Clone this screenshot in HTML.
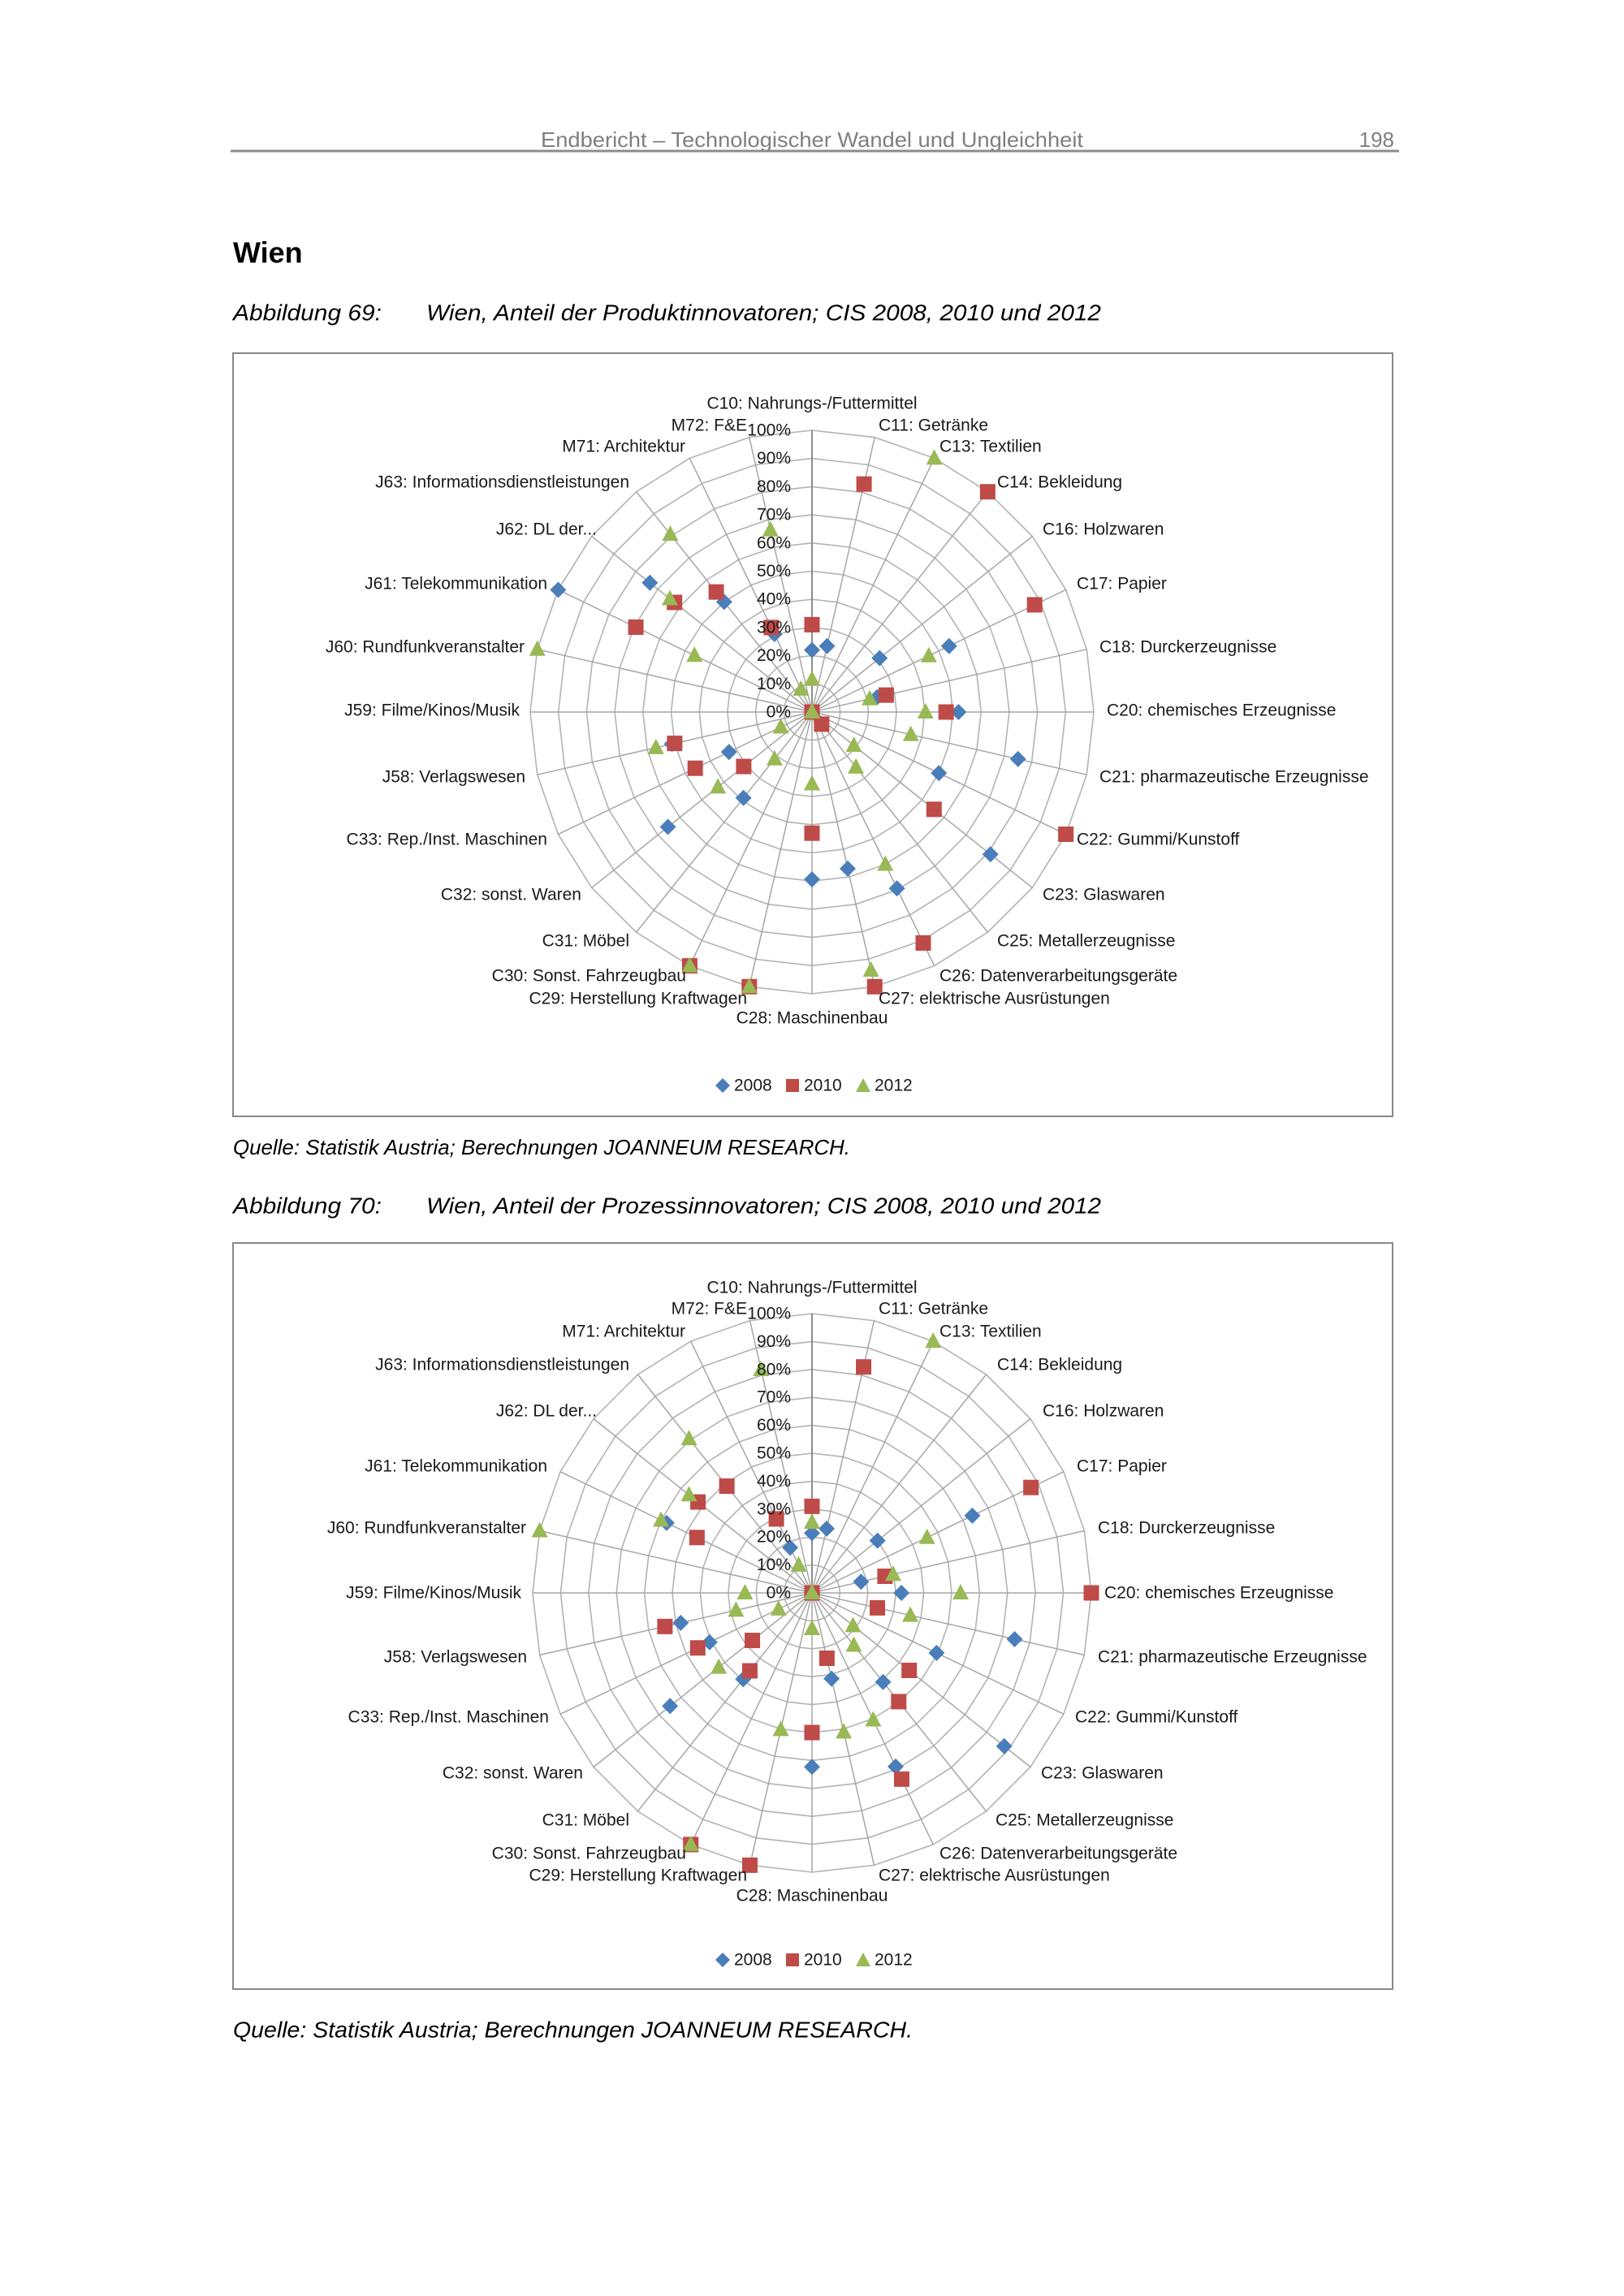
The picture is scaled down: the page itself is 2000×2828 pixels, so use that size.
<!DOCTYPE html>
<html><head><meta charset="utf-8">
<style>
html,body{margin:0;padding:0;background:#fff;}
svg{display:block;}
text{font-family:"Liberation Sans",sans-serif;}
.lb{font-size:21px;fill:#1a1a1a;dominant-baseline:central;}
.pc{font-size:21px;fill:#1a1a1a;dominant-baseline:central;text-anchor:end;}
</style></head><body>
<svg id="s" xmlns="http://www.w3.org/2000/svg" width="2000" height="2828" viewBox="0 0 2000 2828">
<rect width="2000" height="2828" fill="#fff"/>
<!-- header -->
<text x="1000" y="172" font-size="26" fill="#7f7f7f" text-anchor="middle" dominant-baseline="central" textLength="668" lengthAdjust="spacingAndGlyphs">Endbericht – Technologischer Wandel und Ungleichheit</text>
<text x="1717" y="172" font-size="26" fill="#7f7f7f" text-anchor="end" dominant-baseline="central">198</text>
<line x1="284" y1="186" x2="1723" y2="186" stroke="#8c8c8c" stroke-width="3"/>
<text x="287" y="311" font-size="36" font-weight="bold" fill="#000" dominant-baseline="central">Wien</text>
<text x="287" y="385" font-size="28" font-style="italic" fill="#000" dominant-baseline="central" textLength="183" lengthAdjust="spacingAndGlyphs">Abbildung 69:</text>
<text x="525" y="385" font-size="28" font-style="italic" fill="#000" dominant-baseline="central" textLength="831" lengthAdjust="spacingAndGlyphs">Wien, Anteil der Produktinnovatoren; CIS 2008, 2010 und 2012</text>
<rect x="287" y="435" width="1428" height="940" fill="none" stroke="#888" stroke-width="2"/>
<text x="287" y="1413" font-size="26" font-style="italic" fill="#000" dominant-baseline="central" textLength="760" lengthAdjust="spacingAndGlyphs">Quelle: Statistik Austria; Berechnungen JOANNEUM RESEARCH.</text>

<text x="287" y="1485" font-size="28" font-style="italic" fill="#000" dominant-baseline="central" textLength="183" lengthAdjust="spacingAndGlyphs">Abbildung 70:</text>
<text x="525" y="1485" font-size="28" font-style="italic" fill="#000" dominant-baseline="central" textLength="831" lengthAdjust="spacingAndGlyphs">Wien, Anteil der Prozessinnovatoren; CIS 2008, 2010 und 2012</text>
<rect x="287" y="1531" width="1428" height="919" fill="none" stroke="#888" stroke-width="2"/>
<text x="287" y="2500" font-size="28" font-style="italic" fill="#000" dominant-baseline="central" textLength="837" lengthAdjust="spacingAndGlyphs">Quelle: Statistik Austria; Berechnungen JOANNEUM RESEARCH.</text>

<g id="c1" transform="translate(1000,877)">
<g id="g1"></g>
<text class="pc" x="-26" y="0">0%</text><text class="pc" x="-26" y="-34.7">10%</text><text class="pc" x="-26" y="-69.4">20%</text><text class="pc" x="-26" y="-104.1">30%</text><text class="pc" x="-26" y="-138.8">40%</text><text class="pc" x="-26" y="-173.5">50%</text><text class="pc" x="-26" y="-208.2">60%</text><text class="pc" x="-26" y="-242.9">70%</text><text class="pc" x="-26" y="-277.6">80%</text><text class="pc" x="-26" y="-312.3">90%</text><text class="pc" x="-26" y="-347">100%</text>
<text class="lb" x="0" y="-380" text-anchor="middle">C10: Nahrungs-/Futtermittel</text>
<text class="lb" x="-80" y="-353" text-anchor="end">M72: F&amp;E</text>
<text class="lb" x="82" y="-353">C11: Getränke</text>
<text class="lb" x="-156" y="-327" text-anchor="end">M71: Architektur</text>
<text class="lb" x="157" y="-327">C13: Textilien</text>
<text class="lb" x="-225" y="-283" text-anchor="end">J63: Informationsdienstleistungen</text>
<text class="lb" x="228" y="-283">C14: Bekleidung</text>
<text class="lb" x="-265" y="-225" text-anchor="end">J62: DL der...</text>
<text class="lb" x="284" y="-225">C16: Holzwaren</text>
<text class="lb" x="-326" y="-158" text-anchor="end">J61: Telekommunikation</text>
<text class="lb" x="326" y="-158">C17: Papier</text>
<text class="lb" x="-354" y="-80" text-anchor="end">J60: Rundfunkveranstalter</text>
<text class="lb" x="354" y="-80">C18: Durckerzeugnisse</text>
<text class="lb" x="-360" y="-2" text-anchor="end">J59: Filme/Kinos/Musik</text>
<text class="lb" x="363" y="-2">C20: chemisches Erzeugnisse</text>
<text class="lb" x="-353" y="80" text-anchor="end">J58: Verlagswesen</text>
<text class="lb" x="354" y="80">C21: pharmazeutische Erzeugnisse</text>
<text class="lb" x="-326" y="157" text-anchor="end">C33: Rep./Inst. Maschinen</text>
<text class="lb" x="326" y="157">C22: Gummi/Kunstoff</text>
<text class="lb" x="-284" y="225" text-anchor="end">C32: sonst. Waren</text>
<text class="lb" x="284" y="225">C23: Glaswaren</text>
<text class="lb" x="-225" y="282" text-anchor="end">C31: Möbel</text>
<text class="lb" x="228" y="282">C25: Metallerzeugnisse</text>
<text class="lb" x="-155" y="325" text-anchor="end">C30: Sonst. Fahrzeugbau</text>
<text class="lb" x="157" y="325">C26: Datenverarbeitungsgeräte</text>
<text class="lb" x="-80" y="353" text-anchor="end">C29: Herstellung Kraftwagen</text>
<text class="lb" x="82" y="353">C27: elektrische Ausrüstungen</text>
<text class="lb" x="0" y="377" text-anchor="middle">C28: Maschinenbau</text>
<g transform="translate(0,460)">
<path d="M-110,-9 L-101,0 L-110,9 L-119,0 Z" fill="#4a7ebb"/>
<text class="lb" x="-96" y="0" font-size="23">2008</text>
<rect x="-32" y="-8" width="16" height="16" fill="#be4b48"/>
<text class="lb" x="-10" y="0" font-size="23">2010</text>
<path d="M63,-9 L72,8 L54,8 Z" fill="#98b954"/>
<text class="lb" x="77" y="0" font-size="23">2012</text>
</g>
</g>

<g id="c2" transform="translate(1000,1962)">
<g id="g2"></g>
<text class="pc" x="-26" y="0">0%</text><text class="pc" x="-26" y="-34.4">10%</text><text class="pc" x="-26" y="-68.8">20%</text><text class="pc" x="-26" y="-103.2">30%</text><text class="pc" x="-26" y="-137.6">40%</text><text class="pc" x="-26" y="-172">50%</text><text class="pc" x="-26" y="-206.4">60%</text><text class="pc" x="-26" y="-240.8">70%</text><text class="pc" x="-26" y="-275.2">80%</text><text class="pc" x="-26" y="-309.6">90%</text><text class="pc" x="-26" y="-344">100%</text>
<text class="lb" x="0" y="-376" text-anchor="middle">C10: Nahrungs-/Futtermittel</text>
<text class="lb" x="-80" y="-350" text-anchor="end">M72: F&amp;E</text>
<text class="lb" x="82" y="-350">C11: Getränke</text>
<text class="lb" x="-156" y="-322" text-anchor="end">M71: Architektur</text>
<text class="lb" x="157" y="-322">C13: Textilien</text>
<text class="lb" x="-225" y="-281" text-anchor="end">J63: Informationsdienstleistungen</text>
<text class="lb" x="228" y="-281">C14: Bekleidung</text>
<text class="lb" x="-265" y="-224" text-anchor="end">J62: DL der...</text>
<text class="lb" x="284" y="-224">C16: Holzwaren</text>
<text class="lb" x="-326" y="-156" text-anchor="end">J61: Telekommunikation</text>
<text class="lb" x="326" y="-156">C17: Papier</text>
<text class="lb" x="-352" y="-80" text-anchor="end">J60: Rundfunkveranstalter</text>
<text class="lb" x="352" y="-80">C18: Durckerzeugnisse</text>
<text class="lb" x="-358" y="0" text-anchor="end">J59: Filme/Kinos/Musik</text>
<text class="lb" x="360" y="0">C20: chemisches Erzeugnisse</text>
<text class="lb" x="-351" y="79" text-anchor="end">J58: Verlagswesen</text>
<text class="lb" x="352" y="79">C21: pharmazeutische Erzeugnisse</text>
<text class="lb" x="-324" y="153" text-anchor="end">C33: Rep./Inst. Maschinen</text>
<text class="lb" x="324" y="153">C22: Gummi/Kunstoff</text>
<text class="lb" x="-282" y="222" text-anchor="end">C32: sonst. Waren</text>
<text class="lb" x="282" y="222">C23: Glaswaren</text>
<text class="lb" x="-225" y="280" text-anchor="end">C31: Möbel</text>
<text class="lb" x="226" y="280">C25: Metallerzeugnisse</text>
<text class="lb" x="-155" y="321" text-anchor="end">C30: Sonst. Fahrzeugbau</text>
<text class="lb" x="157" y="321">C26: Datenverarbeitungsgeräte</text>
<text class="lb" x="-80" y="348" text-anchor="end">C29: Herstellung Kraftwagen</text>
<text class="lb" x="82" y="348">C27: elektrische Ausrüstungen</text>
<text class="lb" x="0" y="373" text-anchor="middle">C28: Maschinenbau</text>
<g transform="translate(0,452)">
<path d="M-110,-9 L-101,0 L-110,9 L-119,0 Z" fill="#4a7ebb"/>
<text class="lb" x="-96" y="0" font-size="23">2008</text>
<rect x="-32" y="-8" width="16" height="16" fill="#be4b48"/>
<text class="lb" x="-10" y="0" font-size="23">2010</text>
<path d="M63,-9 L72,8 L54,8 Z" fill="#98b954"/>
<text class="lb" x="77" y="0" font-size="23">2012</text>
</g>
</g>
</svg>
<script>
(function(){
var NS="http://www.w3.org/2000/svg";
function el(p,t,a){var e=document.createElementNS(NS,t);for(var k in a)e.setAttribute(k,a[k]);p.appendChild(e);return e;}
function draw(g,R,d){
  var N=28,grid=el(g,"g",{}),i,k;
  for(k=1;k<=10;k++){var pts=[];for(i=0;i<N;i++){var a=i*2*Math.PI/N;pts.push((R*k/10*Math.sin(a)).toFixed(1)+","+(-R*k/10*Math.cos(a)).toFixed(1));}
    el(grid,"polygon",{points:pts.join(" "),fill:"none",stroke:"#b3b3b3","stroke-width":1.6});}
  for(i=0;i<N;i++){var a=i*2*Math.PI/N;el(grid,"line",{x1:0,y1:0,x2:(R*Math.sin(a)).toFixed(1),y2:(-R*Math.cos(a)).toFixed(1),stroke:i==0?"#8c8c8c":"#a6a6a6","stroke-width":i==0?2:1.5});}
  var cols=["#4a7ebb","#be4b48","#98b954"];
  for(var s=0;s<3;s++){for(i=0;i<N;i++){var v=d[s][i],a=i*2*Math.PI/N,x=R*v*Math.sin(a),y=-R*v*Math.cos(a);
    if(s==0)el(g,"path",{d:"M"+x+","+(y-10)+"L"+(x+10)+","+y+"L"+x+","+(y+10)+"L"+(x-10)+","+y+"Z",fill:cols[0]});
    else if(s==1)el(g,"rect",{x:x-9.5,y:y-9.5,width:19,height:19,fill:cols[1]});
    else el(g,"path",{d:"M"+x+","+(y-11)+"L"+(x+10)+","+(y+8)+"L"+(x-10)+","+(y+8)+"Z",fill:cols[2]});}}
}
var d1=[
[.22,.24,0,0,.307,.54,.237,.52,.75,.50,.81,0,.695,.57,.594,0,0,.39,.654,.327,.51,0,0,1,.736,.50,.307,0],
[.31,.83,0,1,0,.877,.27,.476,0,1,.554,.055,.91,1,.43,1,1,0,.31,.46,.5,0,0,.694,.624,.545,.333,0],
[.116,0,1,0,0,.46,.21,.403,.36,0,.19,.25,.60,.94,.255,1,1,.213,.427,.123,.568,0,1,.463,.645,.807,.09,.663]];
var d2=[
[.214,.236,0,0,.30,.637,.18,.32,.744,.495,.88,.408,.69,.315,.623,0,0,.395,.65,.407,.482,0,0,.578,0,0,.18,0],
[.31,.83,0,0,0,.87,.268,1,.24,0,.445,.498,.74,.24,.5,1,1,.357,.273,.454,.54,0,0,.457,.522,.489,.294,0],
[.253,0,1,0,0,.457,.298,.532,.361,0,.188,.24,.505,.511,.128,.502,1,0,.427,.133,.279,.24,1,.60,.563,.706,.11,.82]];
draw(document.getElementById("g1"),347,d1);
draw(document.getElementById("g2"),344,d2);
})();
</script>
</body></html>
